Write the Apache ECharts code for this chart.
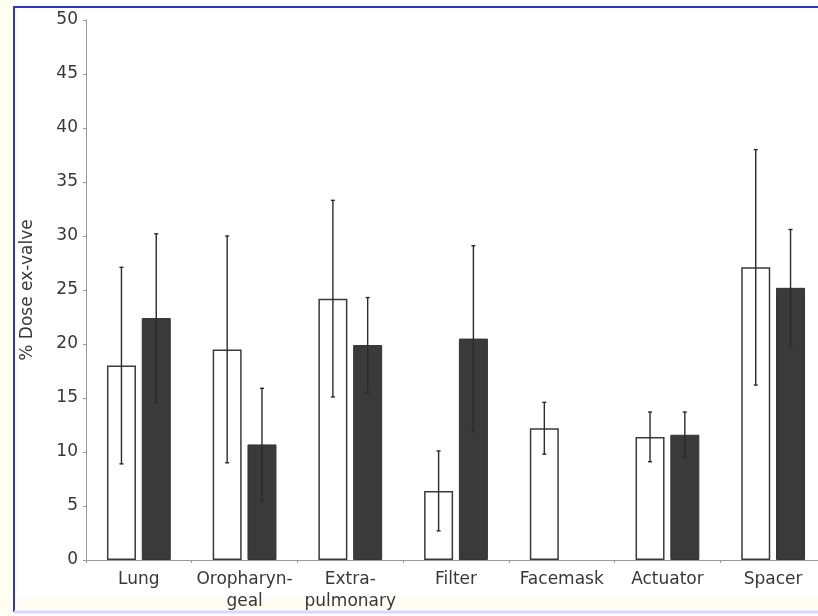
<!DOCTYPE html>
<html>
<head>
<meta charset="utf-8">
<script src="https://cdn.jsdelivr.net/npm/echarts@6/dist/echarts.min.js"></script>
<style>
html,body{margin:0;padding:0;background:#fff;overflow:hidden;width:818px;height:616px;}
#chart{width:826px;height:616px;}
</style>
</head>
<body>
<div id="chart"></div>
<script>
// ---- data ----
var categories = ['Lung', 'Oropharyn-\ngeal', 'Extra-\npulmonary', 'Filter', 'Facemask', 'Actuator', 'Spacer'];
var whiteMean = [18.0, 19.5, 24.2, 6.4, 12.2, 11.4, 27.1];
var whiteErr  = [9.1, 10.5, 9.1, 3.7, 2.4, 2.3, 10.9];
var darkMean  = [22.4, 10.7, 19.9, 20.5, null, 11.6, 25.2];
var darkErr   = [7.8, 5.2, 4.4, 8.6, null, 2.1, 5.4];
var yTicks = { min: 0, max: 50, interval: 5 };

// ---- style ----
var BAR_W = 29;
var GAP_RATIO = 0.2;
var FONT = 'DejaVu Sans';
var TXT = '#383838';

var chart = echarts.init(document.getElementById('chart'), null, { renderer: 'canvas' });

function errSeries(means, errs, side) {
  var data = [];
  for (var i = 0; i < means.length; i++) {
    if (means[i] == null) continue;
    data.push([i, means[i] - errs[i], means[i] + errs[i]]);
  }
  return {
    type: 'custom',
    z: 10,
    silent: true,
    clip: false,
    data: data,
    renderItem: function (params, api) {
      var off = side * (BAR_W + BAR_W * GAP_RATIO) / 2;
      var lo = api.coord([api.value(0), api.value(1)]);
      var hi = api.coord([api.value(0), api.value(2)]);
      var x = lo[0] + off;
      var cap = 2;
      var st = { stroke: '#2a2a2a', lineWidth: 1.4, fill: null };
      return {
        type: 'group',
        children: [
          { type: 'line', shape: { x1: x, y1: lo[1], x2: x, y2: hi[1] }, style: st },
          { type: 'line', shape: { x1: x - cap, y1: hi[1], x2: x + cap, y2: hi[1] }, style: st },
          { type: 'line', shape: { x1: x - cap, y1: lo[1], x2: x + cap, y2: lo[1] }, style: st }
        ]
      };
    }
  };
}

var option = {
  animation: false,
  backgroundColor: '#ffffff',
  grid: { left: 86, right: 0, top: 20, bottom: 56, containLabel: false },
  xAxis: {
    type: 'category',
    data: categories,
    axisLine: { lineStyle: { color: '#9a9a9a', width: 1 } },
    axisTick: { show: true, length: 3, lineStyle: { color: '#9a9a9a' } },
    axisLabel: { color: TXT, fontFamily: FONT, fontSize: 17, margin: 9, lineHeight: 22, interval: 0 },
    splitLine: { show: false }
  },
  yAxis: {
    type: 'value',
    min: yTicks.min, max: yTicks.max, interval: yTicks.interval,
    name: '% Dose ex-valve',
    nameLocation: 'middle',
    nameGap: 50,
    nameTextStyle: { color: TXT, fontFamily: FONT, fontSize: 17 },
    axisLine: { show: true, lineStyle: { color: '#9a9a9a', width: 1 } },
    axisTick: { show: true, length: 3, lineStyle: { color: '#9a9a9a' } },
    axisLabel: { color: TXT, fontFamily: FONT, fontSize: 17, margin: 8 },
    splitLine: { show: false }
  },
  graphic: [
    { type: 'rect', silent: true, z: -1, shape: { x: 0, y: 0, width: 13, height: 616 }, style: { fill: '#fffff2' } },
    { type: 'rect', silent: true, z: -1, shape: { x: 0, y: 598, width: 826, height: 12 }, style: { fill: '#fffdf2' } },
    { type: 'line', silent: true, shape: { x1: 14, y1: 7, x2: 826, y2: 7 }, style: { stroke: '#3535c5', lineWidth: 2 } },
    { type: 'line', silent: true, shape: { x1: 14, y1: 6, x2: 14, y2: 612 }, style: { stroke: '#3535c5', lineWidth: 2 } },
    { type: 'line', silent: true, shape: { x1: 14, y1: 612, x2: 826, y2: 612 }, style: { stroke: '#d9d6ff', lineWidth: 3 } }
  ],
  series: [
    {
      name: 'A', type: 'bar', data: whiteMean, barWidth: BAR_W, barGap: (GAP_RATIO * 100) + '%',
      itemStyle: { color: '#ffffff', borderColor: '#3a3a3a', borderWidth: 1.5 }
    },
    {
      name: 'B', type: 'bar', data: darkMean, barWidth: BAR_W, barGap: (GAP_RATIO * 100) + '%',
      itemStyle: { color: '#3a3a3a', borderColor: '#333333', borderWidth: 1 }
    },
    errSeries(whiteMean, whiteErr, -1),
    errSeries(darkMean, darkErr, 1)
  ]
};
chart.setOption(option);
</script>
</body>
</html>
